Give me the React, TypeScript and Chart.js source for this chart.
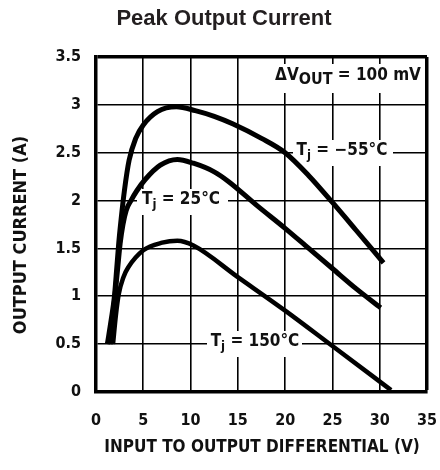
import React, { useEffect, useRef } from "react";
import { Chart, registerables } from "chart.js";

Chart.register(...registerables);

// ---- data ----
const xTicks = [0, 5, 10, 15, 20, 25, 30, 35];
const yTicks = [0, 0.5, 1, 1.5, 2, 2.5, 3, 3.5];

const voltsM55 = [1.2, 1.6, 1.95, 2.2, 2.4, 2.65, 3.0, 3.5, 4.2, 5.0, 6.5, 8.5, 10.5, 12.5, 14.5, 17.5, 20, 22.5, 25, 27.5, 30.4];
const ampsM55 = [0.5, 0.75, 1.0, 1.3, 1.55, 1.8, 2.1, 2.42, 2.65, 2.79, 2.93, 2.98, 2.94, 2.88, 2.8, 2.65, 2.5, 2.26, 1.98, 1.69, 1.35];

const volts25 = [1.5, 1.9, 2.3, 2.55, 2.85, 3.2, 3.7, 4.3, 5.2, 6.8, 8.6, 10.3, 12.5, 14, 17, 20, 22.5, 25, 27.5, 30.1];
const amps25 = [0.5, 0.9, 1.3, 1.55, 1.75, 1.9, 2.0, 2.1, 2.22, 2.37, 2.43, 2.39, 2.3, 2.2, 1.95, 1.71, 1.5, 1.29, 1.08, 0.88];

const volts150 = [1.8, 2.1, 2.4, 2.9, 3.4, 5, 7, 8.6, 10.3, 15, 20, 25, 31.2];
const amps150 = [0.5, 0.8, 1.02, 1.2, 1.3, 1.48, 1.56, 1.58, 1.53, 1.2, 0.85, 0.48, 0.02];

const titleText = "Peak Output Current";
const xTitle = "INPUT TO OUTPUT DIFFERENTIAL (V)";
const yTitle = "OUTPUT CURRENT (A)";

const NARROW = "'Liberation Sans Narrow', 'DejaVu Sans Condensed', 'Arial Narrow', sans-serif";
const INK = "#111";

type Part = { t: string; s: number; dy?: number };
type Label = { parts: Part[]; cx: number; cy: number; box: number[] };

const labels: Label[] = [
  { parts: [{ t: "ΔV", s: 17 }, { t: "OUT", s: 16, dy: 4 }, { t: " = 100 mV", s: 17 }], cx: 348, cy: 76, box: [272, 64, 424, 93] },
  { parts: [{ t: "T", s: 17 }, { t: "j", s: 13, dy: 5 }, { t: " = −55°C", s: 17 }], cx: 342, cy: 151, box: [293, 140, 393, 166] },
  { parts: [{ t: "T", s: 17 }, { t: "j", s: 13, dy: 5 }, { t: " = 25°C", s: 17 }], cx: 181, cy: 200, box: [137, 189, 228, 215] },
  { parts: [{ t: "T", s: 17 }, { t: "j", s: 13, dy: 5 }, { t: " = 150°C", s: 17 }], cx: 255, cy: 342, box: [207, 331, 302, 357] },
];

function drawRich(ctx: CanvasRenderingContext2D, parts: Part[], cx: number, cy: number) {
  ctx.save();
  let total = 0;
  const widths = parts.map((p) => {
    ctx.font = `bold ${p.s}px ${NARROW}`;
    const w = ctx.measureText(p.t).width;
    total += w;
    return w;
  });
  ctx.fillStyle = INK;
  ctx.textBaseline = "middle";
  ctx.textAlign = "left";
  let x = cx - total / 2;
  parts.forEach((p, i) => {
    ctx.font = `bold ${p.s}px ${NARROW}`;
    ctx.fillText(p.t, x, cy + (p.dy || 0));
    x += widths[i];
  });
  ctx.restore();
}

const textPlugin = {
  id: "texts",
  beforeDatasetsDraw(chart: any) {
    const ctx: CanvasRenderingContext2D = chart.ctx;
    ctx.save();
    ctx.fillStyle = "#fff";
    labels.forEach((l) => ctx.fillRect(l.box[0], l.box[1], l.box[2] - l.box[0], l.box[3] - l.box[1]));
    ctx.restore();
  },
  afterDraw(chart: any) {
    const ctx: CanvasRenderingContext2D = chart.ctx;
    // title
    ctx.save();
    ctx.font = "bold 22px 'Liberation Sans', Arial, sans-serif";
    ctx.fillStyle = "#231f20";
    ctx.textAlign = "center";
    ctx.textBaseline = "middle";
    ctx.fillText(titleText, 224, 19);
    ctx.restore();

    // axis titles
    ctx.save();
    ctx.fillStyle = INK;
    ctx.textAlign = "center";
    ctx.textBaseline = "middle";
    ctx.font = `bold 17px ${NARROW}`;
    ctx.fillText(xTitle, 262, 448);
    ctx.font = `bold 18px ${NARROW}`;
    ctx.translate(21, 235);
    ctx.rotate(-Math.PI / 2);
    ctx.fillText(yTitle, 0, 0);
    ctx.restore();

    labels.forEach((l) => drawRich(ctx, l.parts, l.cx, l.cy));
  },
};

function pts(xs: number[], ys: number[]) {
  return xs.map((x, i) => ({ x, y: ys[i] }));
}

export default function App() {
  const ref = useRef<HTMLCanvasElement>(null);
  useEffect(() => {
    document.body.style.margin = "0";
    const canvas = ref.current!;
    const ds = (data: any[], w: number) => ({
      data,
      borderColor: "#000",
      borderWidth: w,
      pointRadius: 0,
      fill: false,
      cubicInterpolationMode: "monotone" as const,
      borderCapStyle: "butt" as const,
      borderJoinStyle: "round" as const,
    });
    const tickFont = { family: NARROW, size: 16, weight: "bold" as const };
    const chart = new Chart(canvas, {
      type: "line",
      data: {
        datasets: [
          ds(pts(voltsM55, ampsM55), 5),
          ds(pts(volts25, amps25), 5),
          ds(pts(volts150, amps150), 4.5),
        ],
      },
      options: {
        animation: false,
        responsive: false,
        devicePixelRatio: 1,
        layout: { padding: { top: 57, right: 13, left: 0, bottom: 0 } },
        plugins: { legend: { display: false }, tooltip: { enabled: false }, title: { display: false } },
        scales: {
          x: {
            type: "linear",
            min: xTicks[0],
            max: xTicks[xTicks.length - 1],
            afterFit: (s: any) => { s.height = 78; s.paddingLeft = 0; s.paddingRight = 0; },
            afterBuildTicks: (s: any) => { s.ticks = xTicks.map((v) => ({ value: v })); },
            ticks: { color: INK, font: tickFont, padding: 19, maxRotation: 0, autoSkip: false, callback: (v: any) => String(v) },
            grid: {
              color: "#000",
              drawTicks: false,
              lineWidth: (c: any) => (c.index === xTicks.length - 1 ? 3.5 : 1.6),
            },
            border: { color: "#000", width: 3.5 },
          },
          y: {
            type: "linear",
            min: yTicks[0],
            max: yTicks[yTicks.length - 1],
            afterFit: (s: any) => { s.width = 96; s.paddingTop = 0; s.paddingBottom = 0; },
            afterBuildTicks: (s: any) => { s.ticks = yTicks.map((v) => ({ value: v })); },
            ticks: { color: INK, font: tickFont, padding: 15, autoSkip: false, callback: (v: any) => String(v) },
            grid: {
              color: "#000",
              drawTicks: false,
              lineWidth: (c: any) => (c.index === yTicks.length - 1 ? 3.5 : 1.6),
            },
            border: { color: "#000", width: 3.5 },
          },
        },
      },
      plugins: [textPlugin],
    });
    return () => chart.destroy();
  }, []);
  return <canvas ref={ref} width={440} height={470} style={{ display: "block" }} />;
}
